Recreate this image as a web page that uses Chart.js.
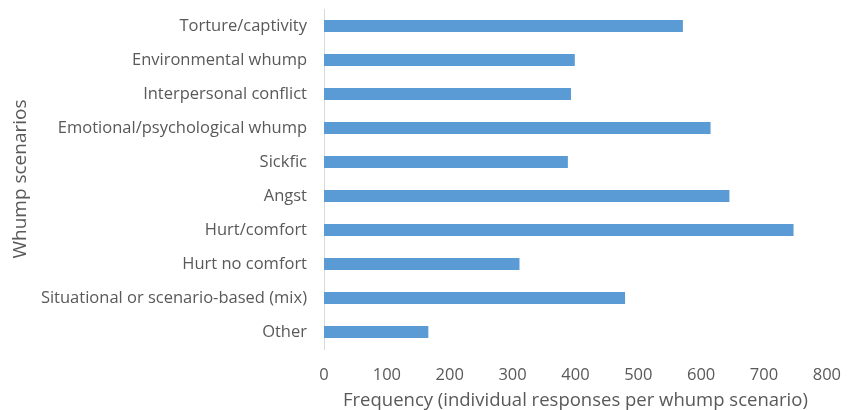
<!DOCTYPE html>
<html>
<head>
<meta charset="utf-8">
<script src="https://cdn.jsdelivr.net/npm/chart.js@4/dist/chart.umd.min.js"></script>
<style>
  html, body { margin: 0; padding: 0; background: #fff; overflow: hidden; }
  #wrap { position: relative; width: 857px; height: 412px; }
</style>
</head>
<body>
<div id="wrap"><canvas id="chart"></canvas></div>
<script>
// Whump scenario categories, top to bottom
const scenarios = [
  'Torture/captivity',
  'Environmental whump',
  'Interpersonal conflict',
  'Emotional/psychological whump',
  'Sickfic',
  'Angst',
  'Hurt/comfort',
  'Hurt no comfort',
  'Situational or scenario-based (mix)',
  'Other'
];

// Number of individual responses for each scenario
const responses = [571, 399, 393, 615, 388, 645, 747, 311, 479, 166];

// Frequency axis ticks
const freqTicks = [0, 100, 200, 300, 400, 500, 600, 700, 800];

const textColor = '#595959';
const fontFamily = '"Open Sans", "DejaVu Sans", sans-serif';

new Chart(document.getElementById('chart'), {
  type: 'bar',
  data: {
    labels: scenarios,
    datasets: [{
      data: responses,
      backgroundColor: '#5B9BD5',
      borderWidth: 0,
      categoryPercentage: 1.0,
      barPercentage: 0.36
    }]
  },
  options: {
    indexAxis: 'y',
    responsive: true,
    maintainAspectRatio: false,
    animation: false,
    layout: { padding: { left: 0, right: 20, top: 9, bottom: 0 } },
    plugins: {
      legend: { display: false },
      tooltip: { enabled: false }
    },
    scales: {
      x: {
        min: 0,
        max: 800,
        afterBuildTicks: (scale) => { scale.ticks = freqTicks.map(v => ({ value: v })); },
        grid: { display: false, drawTicks: false },
        border: { display: false },
        ticks: { color: textColor, font: { family: fontFamily, size: 16.5 }, padding: 16, maxRotation: 0 },
        title: {
          display: true,
          text: 'Frequency (individual responses per whump scenario)',
          color: textColor,
          font: { family: fontFamily, size: 18.5 },
          padding: 0
        },
        afterFit: (scale) => { scale.height = 63; }
      },
      y: {
        grid: { display: false, drawTicks: false },
        border: { display: true, color: '#d9d9d9', width: 1 },
        ticks: { color: textColor, font: { family: fontFamily, size: 16.5 }, padding: 17 },
        title: {
          display: true,
          text: 'Whump scenarios',
          color: textColor,
          font: { family: fontFamily, size: 19 },
          padding: { top: 9, bottom: 0 }
        },
        afterFit: (scale) => {
          scale.width = 324;
          scale.paddingTop = 0;
          scale.paddingBottom = 0;
        }
      }
    }
  }
});
</script>
</body>
</html>
